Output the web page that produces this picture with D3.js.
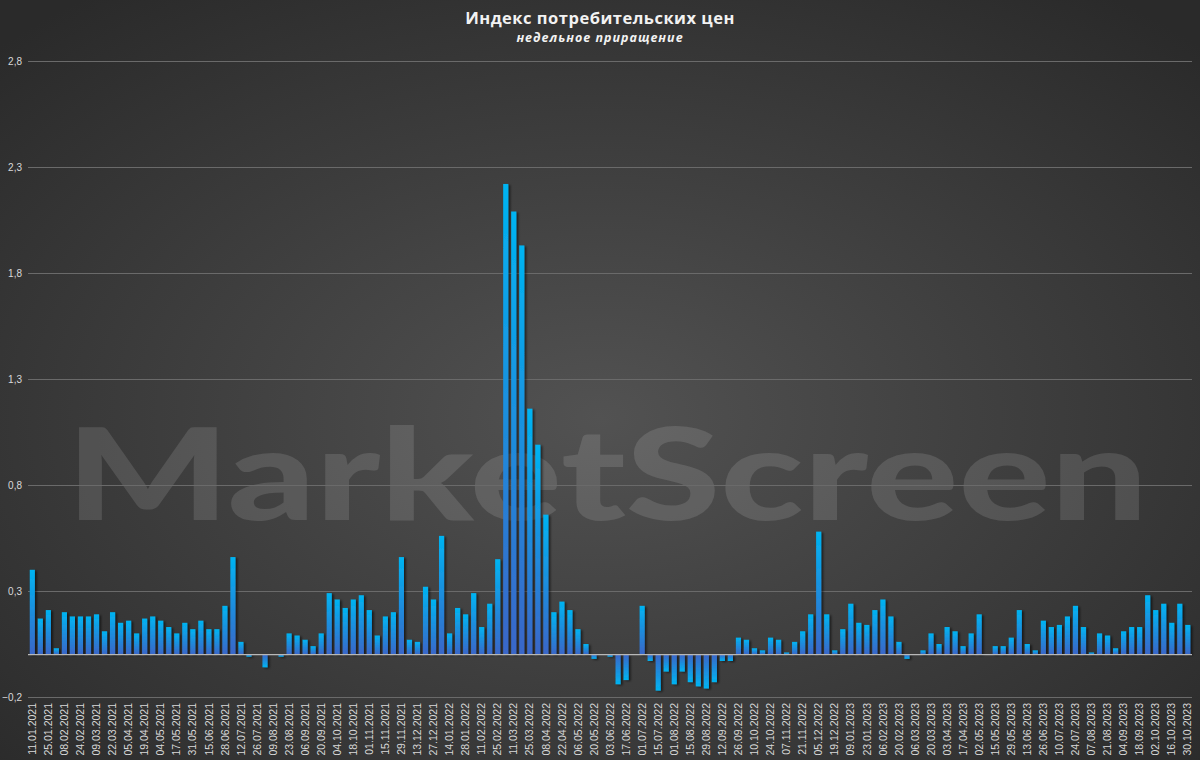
<!DOCTYPE html>
<html><head><meta charset="utf-8">
<script src="https://cdn.jsdelivr.net/npm/d3@7"></script>
<style>html,body{margin:0;padding:0;background:#333;}svg{display:block;}</style>
</head><body>
<svg id="chart" width="1200" height="760"></svg>
<script>
const title = "Индекс потребительских цен";
const subtitle = "недельное приращение";
const watermark = "MarketScreen";
const tickLabels = ["11.01.2021","25.01.2021","08.02.2021","24.02.2021","09.03.2021","22.03.2021","05.04.2021","19.04.2021","04.05.2021","17.05.2021","31.05.2021","15.06.2021","28.06.2021","12.07.2021","26.07.2021","09.08.2021","23.08.2021","06.09.2021","20.09.2021","04.10.2021","18.10.2021","01.11.2021","15.11.2021","29.11.2021","13.12.2021","27.12.2021",
"14.01.2022","28.01.2022","11.02.2022","25.02.2022","11.03.2022","25.03.2022","08.04.2022","22.04.2022","06.05.2022","20.05.2022","03.06.2022","17.06.2022","01.07.2022","15.07.2022","01.08.2022","15.08.2022","29.08.2022","12.09.2022","26.09.2022","10.10.2022","24.10.2022","07.11.2022","21.11.2022","05.12.2022","19.12.2022",
"09.01.2023","23.01.2023","06.02.2023","20.02.2023","06.03.2023","20.03.2023","03.04.2023","17.04.2023","02.05.2023","15.05.2023","29.05.2023","13.06.2023","26.06.2023","10.07.2023","24.07.2023","07.08.2023","21.08.2023","04.09.2023","18.09.2023","02.10.2023","16.10.2023","30.10.2023"];
const values = [0.40,0.17,0.21,0.03,0.20,0.18,0.18,0.18,0.19,0.11,
0.20,0.15,0.16,0.10,0.17,0.18,0.16,0.13,0.10,0.15,
0.12,0.16,0.12,0.12,0.23,0.46,0.06,-0.01,0,-0.06,
0,-0.01,0.10,0.09,0.07,0.04,0.10,0.29,0.26,0.22,
0.26,0.28,0.21,0.09,0.18,0.20,0.46,0.07,0.06,0.32,
0.26,0.56,0.10,0.22,0.19,0.29,0.13,0.24,0.45,2.22,
2.09,1.93,1.16,0.99,0.66,0.20,0.25,0.21,0.12,0.05,
-0.02,0,-0.01,-0.14,-0.12,0,0.23,-0.03,-0.17,-0.08,
-0.14,-0.08,-0.13,-0.15,-0.16,-0.13,-0.03,-0.03,0.08,0.07,
0.03,0.02,0.08,0.07,0.01,0.06,0.11,0.19,0.58,0.19,
0.02,0.12,0.24,0.15,0.14,0.21,0.26,0.18,0.06,-0.02,
0,0.02,0.10,0.05,0.13,0.11,0.04,0.10,0.19,0,
0.04,0.04,0.08,0.21,0.05,0.02,0.16,0.13,0.14,0.18,
0.23,0.13,0.01,0.10,0.09,0.03,0.11,0.13,0.13,0.28,
0.21,0.24,0.15,0.24,0.14];
const yTicks = [-0.2,0.3,0.8,1.3,1.8,2.3,2.8];

const W = 1200, H = 760;
const svg = d3.select("#chart");
const defs = svg.append("defs");

const bg = defs.append("radialGradient").attr("id","bg").attr("cx","50%").attr("cy","55%").attr("r","70%");
bg.append("stop").attr("offset","0%").attr("stop-color","#525252");
bg.append("stop").attr("offset","100%").attr("stop-color","#2a2a2a");

const gPos = defs.append("linearGradient").attr("id","gpos").attr("x1",0).attr("y1",0).attr("x2",0).attr("y2",1);
gPos.append("stop").attr("offset","0%").attr("stop-color","#00b4f2");
gPos.append("stop").attr("offset","100%").attr("stop-color","#3a66c8");
const gNeg = defs.append("linearGradient").attr("id","gneg").attr("x1",0).attr("y1",1).attr("x2",0).attr("y2",0);
gNeg.append("stop").attr("offset","0%").attr("stop-color","#00b4f2");
gNeg.append("stop").attr("offset","100%").attr("stop-color","#3a66c8");

const sh = defs.append("filter").attr("id","shadow").attr("x","-50%").attr("y","-10%").attr("width","250%").attr("height","130%");
sh.append("feDropShadow").attr("dx",2).attr("dy",1).attr("stdDeviation",1).attr("flood-color","#000").attr("flood-opacity",0.55);

svg.append("rect").attr("width",W).attr("height",H).attr("fill","url(#bg)");

// watermark
svg.append("text").attr("x",66).attr("y",520)
  .attr("font-family","Lato, 'Open Sans', sans-serif").attr("font-weight","900")
  .attr("font-size",128).attr("textLength",1082).attr("lengthAdjust","spacingAndGlyphs")
  .attr("fill","#ffffff").attr("fill-opacity",0.12).text(watermark);

const x = d3.scaleBand().domain(d3.range(values.length)).range([28.3, 1191.8]).paddingInner(0.36).paddingOuter(0.18);
const y = d3.scaleLinear().domain([-0.2, 2.8]).range([697, 61]);

// grid
const grid = svg.append("g");
grid.selectAll("line").data(yTicks).join("line")
  .attr("x1",28).attr("x2",1192).attr("y1",d=>y(d)).attr("y2",d=>y(d))
  .attr("stroke","#6a6a6a").attr("stroke-width",1).attr("shape-rendering","crispEdges");

const fmt = d => d3.format(".1f")(d).replace(".", ",");
const yAxis = d3.axisLeft(y).tickValues(yTicks).tickFormat(fmt).tickSize(0).tickPadding(6);
const ya = svg.append("g").attr("transform","translate(28,0)").call(yAxis);
ya.select(".domain").remove();
ya.selectAll("text").attr("fill","#d9d9d9").attr("font-family","'Liberation Sans', Arial, sans-serif").attr("font-size",10);

// bars
svg.append("g").attr("filter","url(#shadow)")
  .selectAll("rect").data(values).join("rect")
  .attr("x",(d,i)=>x(i))
  .attr("width",x.bandwidth())
  .attr("y",d=>d>=0?y(d):y(0))
  .attr("height",d=>Math.abs(y(d)-y(0)))
  .attr("fill",d=>d>=0?"url(#gpos)":"url(#gneg)");

// zero line
svg.append("line").attr("x1",28).attr("x2",1192).attr("y1",y(0)).attr("y2",y(0))
  .attr("stroke","#b8b8b8").attr("stroke-width",1.3);

// x axis labels
const tickIdx = d3.range(0, values.length, 2);
const xAxis = d3.axisBottom(x).tickValues(tickIdx).tickFormat((d)=>tickLabels[d/2]).tickSize(0).tickPadding(0);
const xa = svg.append("g").attr("transform","translate(0,703)").call(xAxis);
xa.select(".domain").remove();
xa.selectAll("text")
  .attr("fill","#d9d9d9").attr("font-family","'Liberation Sans', Arial, sans-serif").attr("font-size",10.5)
  .attr("text-anchor","end").attr("dy","0.35em").attr("y",0)
  .attr("transform","rotate(-90)").attr("x",0);

// titles
svg.append("text").attr("x",600).attr("y",24).attr("text-anchor","middle")
  .attr("font-family","'Open Sans', sans-serif").attr("font-weight","bold").attr("font-size",16.5)
  .attr("fill","#f2f2f2").attr("letter-spacing",0.5).text(title);
svg.append("text").attr("x",600).attr("y",42).attr("text-anchor","middle")
  .attr("font-family","'Open Sans', sans-serif").attr("font-weight","bold").attr("font-style","italic").attr("font-size",12.5)
  .attr("fill","#f2f2f2").attr("letter-spacing",1).text(subtitle);
</script>
</body></html>
